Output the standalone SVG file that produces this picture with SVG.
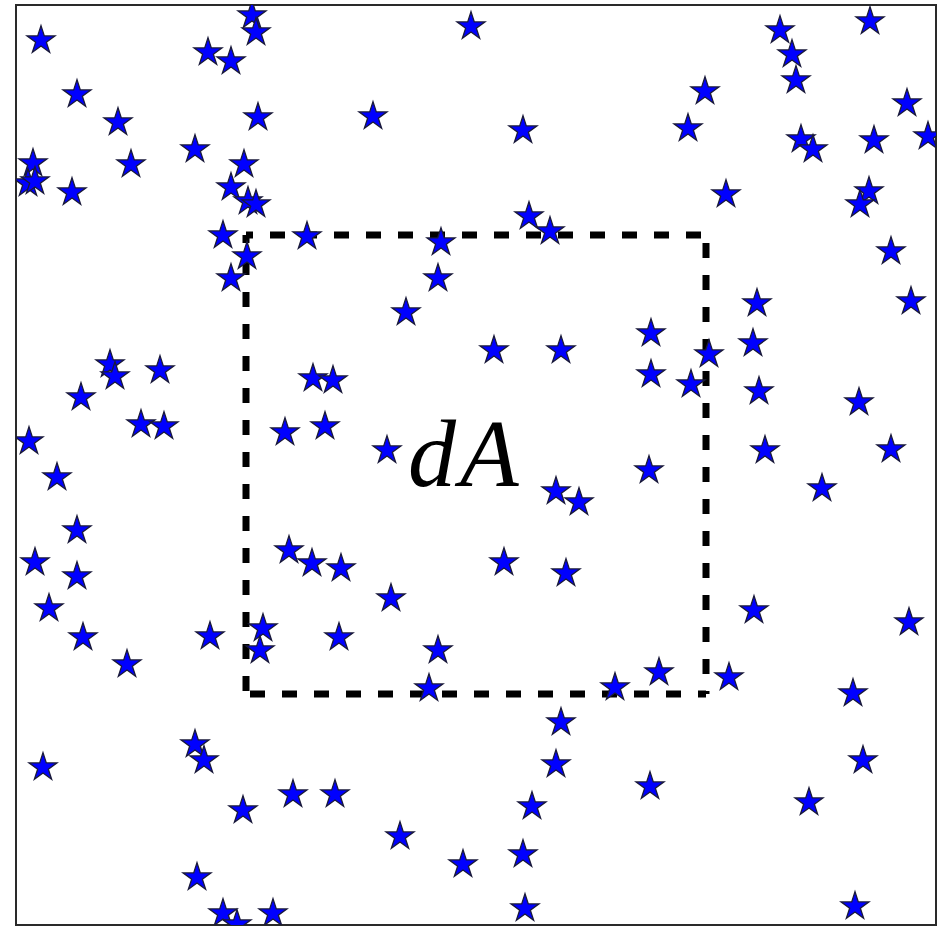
<svg xmlns="http://www.w3.org/2000/svg" xmlns:xlink="http://www.w3.org/1999/xlink" width="941" height="926" viewBox="0 0 941 926">
<style>
.frame{fill:#ffffff;stroke:#2a2a2a;stroke-width:2}
.dash{fill:none;stroke:#000;stroke-width:7;stroke-dasharray:15 17}
.st{fill:#0000ff;stroke:#1a1a3a;stroke-width:1.3;stroke-linejoin:miter}
.lbl{font-family:"Liberation Serif","DejaVu Serif",serif;font-style:italic;font-size:96px;fill:#000}
</style>
<defs>
<clipPath id="ax"><rect x="16" y="5" width="920" height="920"/></clipPath>
<path id="s" d="M0,-13.3 L3.3,-3.1 L14,-3.1 L5.35,3.2 L8.65,13.2 L0,7 L-8.65,13.2 L-5.35,3.2 L-14,-3.1 L-3.3,-3.1 Z"/>
</defs>
<rect width="941" height="926" fill="#ffffff"/>
<rect class="frame" x="16" y="5" width="920" height="920"/>
<g id="region">
<line class="dash" x1="246" y1="235" x2="246" y2="694" style="stroke-dashoffset:7"/>
<line class="dash" x1="706" y1="235" x2="706" y2="694" style="stroke-dashoffset:24"/>
<line class="dash" x1="246" y1="235" x2="706" y2="235" style="stroke-dashoffset:8"/>
<line class="dash" x1="246" y1="694" x2="706" y2="694" style="stroke-dashoffset:28"/>
</g>
<g id="stars" clip-path="url(#ax)">
<use class="st" xlink:href="#s" x="41" y="39"/>
<use class="st" xlink:href="#s" x="252" y="14"/>
<use class="st" xlink:href="#s" x="256" y="31"/>
<use class="st" xlink:href="#s" x="208" y="51"/>
<use class="st" xlink:href="#s" x="231" y="60"/>
<use class="st" xlink:href="#s" x="77" y="93"/>
<use class="st" xlink:href="#s" x="118" y="121"/>
<use class="st" xlink:href="#s" x="258" y="116"/>
<use class="st" xlink:href="#s" x="195" y="148"/>
<use class="st" xlink:href="#s" x="33" y="162"/>
<use class="st" xlink:href="#s" x="28" y="182"/>
<use class="st" xlink:href="#s" x="35" y="180"/>
<use class="st" xlink:href="#s" x="131" y="163"/>
<use class="st" xlink:href="#s" x="72" y="191"/>
<use class="st" xlink:href="#s" x="244" y="163"/>
<use class="st" xlink:href="#s" x="231" y="186"/>
<use class="st" xlink:href="#s" x="248" y="200"/>
<use class="st" xlink:href="#s" x="256" y="203"/>
<use class="st" xlink:href="#s" x="223" y="234"/>
<use class="st" xlink:href="#s" x="307" y="235"/>
<use class="st" xlink:href="#s" x="471" y="25"/>
<use class="st" xlink:href="#s" x="373" y="115"/>
<use class="st" xlink:href="#s" x="523" y="129"/>
<use class="st" xlink:href="#s" x="529" y="215"/>
<use class="st" xlink:href="#s" x="550" y="230"/>
<use class="st" xlink:href="#s" x="441" y="241"/>
<use class="st" xlink:href="#s" x="870" y="20"/>
<use class="st" xlink:href="#s" x="780" y="29"/>
<use class="st" xlink:href="#s" x="792" y="53"/>
<use class="st" xlink:href="#s" x="796" y="79"/>
<use class="st" xlink:href="#s" x="705" y="90"/>
<use class="st" xlink:href="#s" x="907" y="102"/>
<use class="st" xlink:href="#s" x="688" y="127"/>
<use class="st" xlink:href="#s" x="801" y="138"/>
<use class="st" xlink:href="#s" x="813" y="148"/>
<use class="st" xlink:href="#s" x="874" y="139"/>
<use class="st" xlink:href="#s" x="928" y="135"/>
<use class="st" xlink:href="#s" x="726" y="193"/>
<use class="st" xlink:href="#s" x="869" y="190"/>
<use class="st" xlink:href="#s" x="860" y="203"/>
<use class="st" xlink:href="#s" x="247" y="255"/>
<use class="st" xlink:href="#s" x="231" y="277"/>
<use class="st" xlink:href="#s" x="110" y="363"/>
<use class="st" xlink:href="#s" x="115" y="375"/>
<use class="st" xlink:href="#s" x="160" y="369"/>
<use class="st" xlink:href="#s" x="81" y="396"/>
<use class="st" xlink:href="#s" x="141" y="423"/>
<use class="st" xlink:href="#s" x="164" y="425"/>
<use class="st" xlink:href="#s" x="29" y="440"/>
<use class="st" xlink:href="#s" x="285" y="431"/>
<use class="st" xlink:href="#s" x="313" y="377"/>
<use class="st" xlink:href="#s" x="333" y="379"/>
<use class="st" xlink:href="#s" x="438" y="277"/>
<use class="st" xlink:href="#s" x="406" y="311"/>
<use class="st" xlink:href="#s" x="494" y="349"/>
<use class="st" xlink:href="#s" x="561" y="349"/>
<use class="st" xlink:href="#s" x="325" y="425"/>
<use class="st" xlink:href="#s" x="387" y="449"/>
<use class="st" xlink:href="#s" x="891" y="250"/>
<use class="st" xlink:href="#s" x="911" y="300"/>
<use class="st" xlink:href="#s" x="757" y="302"/>
<use class="st" xlink:href="#s" x="651" y="332"/>
<use class="st" xlink:href="#s" x="753" y="342"/>
<use class="st" xlink:href="#s" x="709" y="353"/>
<use class="st" xlink:href="#s" x="651" y="373"/>
<use class="st" xlink:href="#s" x="691" y="383"/>
<use class="st" xlink:href="#s" x="759" y="390"/>
<use class="st" xlink:href="#s" x="859" y="401"/>
<use class="st" xlink:href="#s" x="765" y="449"/>
<use class="st" xlink:href="#s" x="891" y="448"/>
<use class="st" xlink:href="#s" x="649" y="469"/>
<use class="st" xlink:href="#s" x="57" y="476"/>
<use class="st" xlink:href="#s" x="77" y="529"/>
<use class="st" xlink:href="#s" x="35" y="561"/>
<use class="st" xlink:href="#s" x="77" y="575"/>
<use class="st" xlink:href="#s" x="49" y="607"/>
<use class="st" xlink:href="#s" x="83" y="636"/>
<use class="st" xlink:href="#s" x="127" y="663"/>
<use class="st" xlink:href="#s" x="210" y="635"/>
<use class="st" xlink:href="#s" x="263" y="627"/>
<use class="st" xlink:href="#s" x="260" y="649"/>
<use class="st" xlink:href="#s" x="289" y="549"/>
<use class="st" xlink:href="#s" x="312" y="562"/>
<use class="st" xlink:href="#s" x="556" y="490"/>
<use class="st" xlink:href="#s" x="579" y="501"/>
<use class="st" xlink:href="#s" x="341" y="567"/>
<use class="st" xlink:href="#s" x="504" y="561"/>
<use class="st" xlink:href="#s" x="566" y="572"/>
<use class="st" xlink:href="#s" x="391" y="597"/>
<use class="st" xlink:href="#s" x="339" y="636"/>
<use class="st" xlink:href="#s" x="438" y="649"/>
<use class="st" xlink:href="#s" x="429" y="687"/>
<use class="st" xlink:href="#s" x="615" y="686"/>
<use class="st" xlink:href="#s" x="822" y="487"/>
<use class="st" xlink:href="#s" x="754" y="609"/>
<use class="st" xlink:href="#s" x="909" y="621"/>
<use class="st" xlink:href="#s" x="659" y="671"/>
<use class="st" xlink:href="#s" x="729" y="676"/>
<use class="st" xlink:href="#s" x="853" y="692"/>
<use class="st" xlink:href="#s" x="43" y="766"/>
<use class="st" xlink:href="#s" x="195" y="743"/>
<use class="st" xlink:href="#s" x="204" y="759"/>
<use class="st" xlink:href="#s" x="243" y="809"/>
<use class="st" xlink:href="#s" x="293" y="793"/>
<use class="st" xlink:href="#s" x="197" y="876"/>
<use class="st" xlink:href="#s" x="223" y="912"/>
<use class="st" xlink:href="#s" x="237" y="923"/>
<use class="st" xlink:href="#s" x="273" y="912"/>
<use class="st" xlink:href="#s" x="561" y="721"/>
<use class="st" xlink:href="#s" x="556" y="763"/>
<use class="st" xlink:href="#s" x="335" y="793"/>
<use class="st" xlink:href="#s" x="532" y="805"/>
<use class="st" xlink:href="#s" x="400" y="835"/>
<use class="st" xlink:href="#s" x="463" y="863"/>
<use class="st" xlink:href="#s" x="523" y="853"/>
<use class="st" xlink:href="#s" x="525" y="907"/>
<use class="st" xlink:href="#s" x="863" y="759"/>
<use class="st" xlink:href="#s" x="650" y="785"/>
<use class="st" xlink:href="#s" x="809" y="801"/>
<use class="st" xlink:href="#s" x="855" y="905"/>
</g>
<g id="label">
<text class="lbl" y="486"><tspan x="408">d</tspan><tspan x="460">A</tspan></text>
</g>
</svg>
